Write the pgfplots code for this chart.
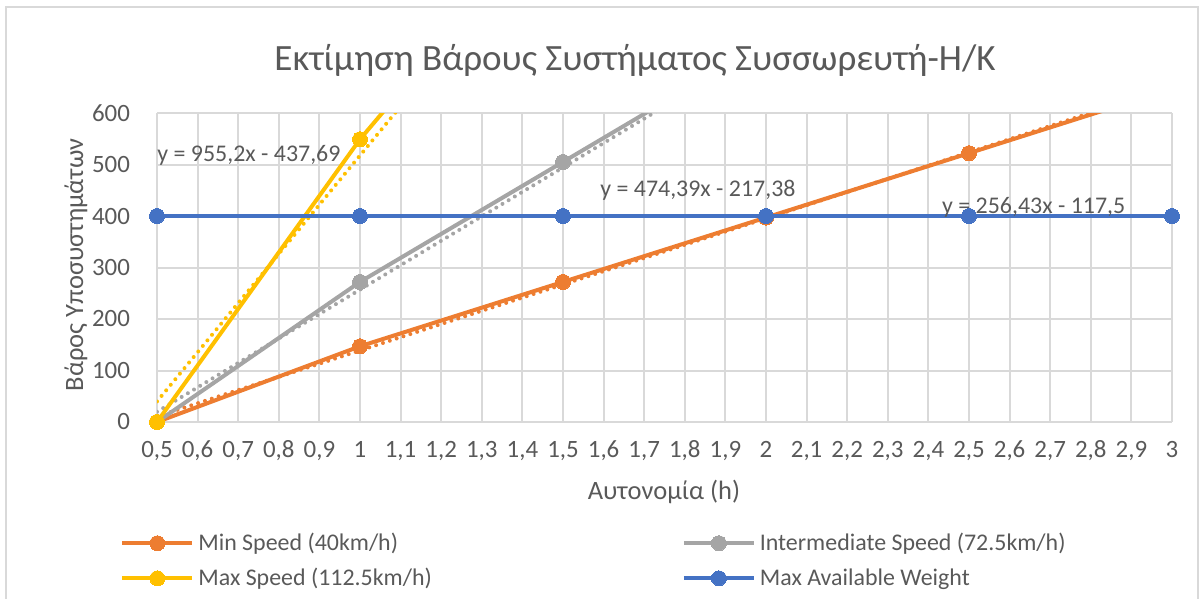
\documentclass[border=0pt]{standalone}
\usepackage{pgfplots}
\pgfplotsset{compat=1.18}
\usepackage{fontspec}
\setmainfont{Carlito}

\definecolor{minc}{HTML}{ED7D31}
\definecolor{midc}{HTML}{A5A5A5}
\definecolor{maxc}{HTML}{FFC000}
\definecolor{limc}{HTML}{4472C4}
\definecolor{gridc}{HTML}{D9D9D9}
\definecolor{txt}{HTML}{595959}

\begin{document}
\begin{tikzpicture}
% page frame
\path[use as bounding box] (0bp,0bp) rectangle (600bp,299.5bp);
\draw[gridc, line width=1bp] (3bp,-5bp) rectangle (599bp,296bp);

% title and axis labels
\node[font=\fontsize{18.6}{22}\selectfont, text=txt] at (317.5bp,269.5bp)
  {Εκτίμηση Βάρους Συστήματος Συσσωρευτή-Η/Κ};
\node[font=\fontsize{13.3}{16}\selectfont, text=txt] at (332bp,53.5bp)
  {Αυτονομία (h)};
\node[font=\fontsize{13.3}{16}\selectfont, text=txt, rotate=90] at (38bp,167bp)
  {Βάρος Υποσυστημάτων};

\begin{axis}[
  at={(78.5bp,88.5bp)}, anchor=south west,
  scale only axis, width=507.5bp, height=154.5bp,
  xmin=0.5, xmax=3, ymin=0, ymax=600,
  xtick={0.5,0.6,0.7,0.8,0.9,1,1.1,1.2,1.3,1.4,1.5,1.6,1.7,1.8,1.9,2,2.1,2.2,2.3,2.4,2.5,2.6,2.7,2.8,2.9,3},
  ytick={0,100,200,300,400,500,600},
  grid=major,
  major grid style={gridc, line width=1bp},
  axis line style={draw=none},
  tick style={draw=none},
  /pgf/number format/use comma,
  /pgf/number format/assume math mode=true,
  every tick label/.append style={font=\fontsize{12.5}{14}\selectfont, text=txt},
  xticklabel style={anchor=base, text height=8bp, text depth=0bp, yshift=-18bp},
  yticklabel style={xshift=-10bp},
  clip mode=individual,
  legend columns=2,
  legend cell align=left,
  legend style={draw=none, fill=none, at={(-0.0365,-0.345)}, anchor=north west,
    font=\fontsize{12}{14}\selectfont, text=txt, inner sep=0pt,
    row sep=3.3bp,
    nodes={inner sep=2bp},
    /tikz/every even column/.append style={column sep=123bp}},
  legend image code/.code={
    \draw[#1, mark=none] (0bp,0bp) -- (35bp,0bp);
    \draw[#1] plot coordinates {(17.5bp,0bp)};
  },
  every axis plot/.append style={line width=2bp},
]

% linear trendlines, endpoints from the fitted equations
\addplot[minc, no marks, line cap=round, dash pattern=on 0bp off 3.6bp, forget plot]
  coordinates {(0.5,10.715) (3,651.79)};
\addplot[midc, no marks, line cap=round, dash pattern=on 0bp off 3.6bp, forget plot]
  coordinates {(0.5,19.815) (3,1205.79)};
\addplot[maxc, no marks, line cap=round, dash pattern=on 0bp off 3.6bp, forget plot]
  coordinates {(0.5,39.91) (3,2427.91)};

% measured series
\addplot[minc, mark=*, mark size=3.75bp, mark options={solid, fill=minc, draw=minc, line width=0bp},
  mark indices={1,2,3,4,5}]
  coordinates {(0.5,0) (1,147) (1.5,272) (2,397) (2.5,522) (3,647)};
\addlegendentry{Min Speed (40km/h)}
\addplot[midc, mark=*, mark size=3.75bp, mark options={solid, fill=midc, draw=midc, line width=0bp},
  mark indices={1,2,3}]
  coordinates {(0.5,0) (1,272) (1.5,505) (2,738) (2.5,971) (3,1204)};
\addlegendentry{Intermediate Speed (72.5km/h)}
\addplot[maxc, mark=*, mark size=3.75bp, mark options={solid, fill=maxc, draw=maxc, line width=0bp},
  mark indices={1,2}]
  coordinates {(0.5,0) (1,549) (1.5,1015) (2,1480) (2.5,1945) (3,2410)};
\addlegendentry{Max Speed (112.5km/h)}
\addplot[limc, mark=*, mark size=3.75bp, mark options={solid, fill=limc, draw=limc, line width=0bp}]
  coordinates {(0.5,400) (1,400) (1.5,400) (2,400) (2.5,400) (3,400)};
\addlegendentry{Max Available Weight}

% trendline equations
\node[anchor=west, font=\fontsize{12}{14}\selectfont, text=txt, inner sep=0pt]
  at (axis cs:0.5,518) {y = 955,2x - 437,69};
\node[anchor=west, font=\fontsize{12}{14}\selectfont, text=txt, inner sep=0pt]
  at (axis cs:1.591,450) {y = 474,39x - 217,38};
\node[anchor=west, font=\fontsize{12}{14}\selectfont, text=txt, inner sep=0pt]
  at (axis cs:2.433,417) {y = 256,43x - 117,5};
\end{axis}
\end{tikzpicture}
\end{document}
